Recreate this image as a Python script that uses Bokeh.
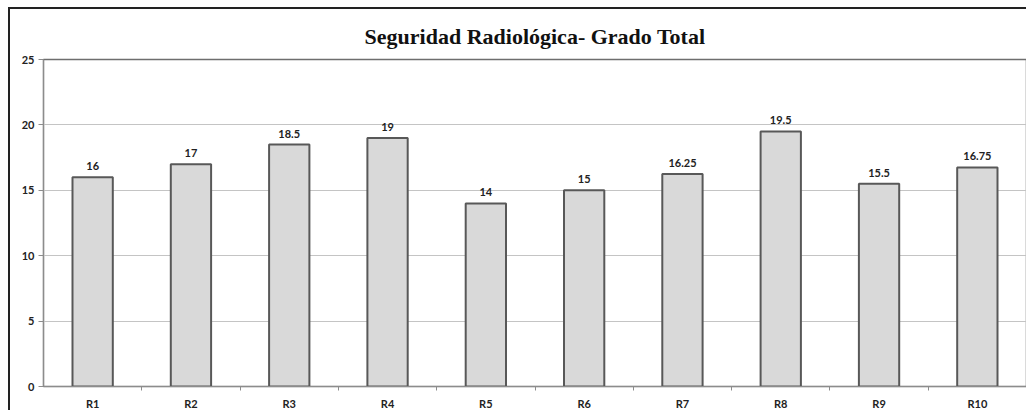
from bokeh.plotting import figure
from bokeh.models import (ColumnDataSource, LabelSet, Range1d, LinearAxis, CategoricalAxis,
                          FixedTicker)
from bokeh.core.properties import value
from bokeh.embed import file_html
from bokeh.resources import INLINE

categories = ["R1", "R2", "R3", "R4", "R5", "R6", "R7", "R8", "R9", "R10"]
values = [16, 17, 18.5, 19, 14, 15, 16.25, 19.5, 15.5, 16.75]
value_labels = ["16", "17", "18.5", "19", "14", "15", "16.25", "19.5", "15.5", "16.75"]
y_ticks = [0, 5, 10, 15, 20, 25]
title_text = "Seguridad Radiológica- Grado Total"

FONT = "Lato"

src = ColumnDataSource(dict(cat=categories, val=values, lab=value_labels))

p = figure(x_range=categories, y_range=Range1d(0, 25), width=1018, height=403,
           output_backend="svg", toolbar_location=None, x_axis_location=None,
           y_axis_location=None, min_border_left=33, min_border_right=2,
           min_border_top=50, min_border_bottom=20)
p.styles = {"border-left": "2px solid #222", "border-top": "2px solid #222",
            "margin-left": "8px", "margin-top": "7px"}

p.title.text = title_text
p.title.align = "center"
p.title.text_font = "Liberation Serif"
p.title.text_font_size = "22px"
p.title.text_font_style = "bold"
p.title.text_color = "#111111"
p.title.offset = 0
p.title.standoff = 22

p.background_fill_color = "white"
p.border_fill_color = "white"
p.outline_line_color = "#6e6e6e"
p.outline_line_width = 1.5

p.vbar(x="cat", top="val", width=0.41, source=src, fill_color="#d9d9d9",
       line_color="#585858", line_width=2)

p.add_layout(LabelSet(x="cat", y="val", text="lab", source=src, text_align="center",
                      text_baseline="bottom", y_offset=7, text_font=value(FONT),
                      text_font_size="11px", text_font_style="bold", text_color="#222222"))

# y axis
yax = LinearAxis(ticker=FixedTicker(ticks=y_ticks))
yax.major_label_text_font = FONT
yax.major_label_text_font_size = "11px"
yax.major_label_text_font_style = "bold"
yax.major_label_text_color = "#222222"
yax.axis_line_color = "#8c8c8c"
yax.major_tick_line_color = "#8c8c8c"
yax.major_tick_out = 5
yax.major_tick_in = 0
yax.minor_tick_line_color = None
yax.major_label_standoff = 4
p.add_layout(yax, "left")

# boundary ticks on x axis (between categories, synthetic coordinates)
tax = LinearAxis(ticker=FixedTicker(ticks=list(range(1, len(categories)))))
tax.major_label_text_font_size = "1px"
tax.major_label_text_color = None
tax.major_label_standoff = 0
tax.axis_line_color = "#8c8c8c"
tax.major_tick_line_color = "#8c8c8c"
tax.major_tick_out = 4
tax.major_tick_in = 0
tax.minor_tick_line_color = None
p.add_layout(tax, "below")

xax = CategoricalAxis()
xax.axis_line_color = None
xax.major_tick_line_color = None
xax.minor_tick_line_color = None
xax.major_label_text_font = FONT
xax.major_label_text_font_size = "11px"
xax.major_label_text_font_style = "bold"
xax.major_label_text_color = "#222222"
xax.major_label_standoff = 0
p.add_layout(xax, "below")

p.xgrid.grid_line_color = None
p.ygrid.ticker = FixedTicker(ticks=y_ticks)
p.ygrid.grid_line_color = "#c4c4c4"
p.ygrid.grid_line_width = 1

open("out.html", "w").write(file_html(p, INLINE))
